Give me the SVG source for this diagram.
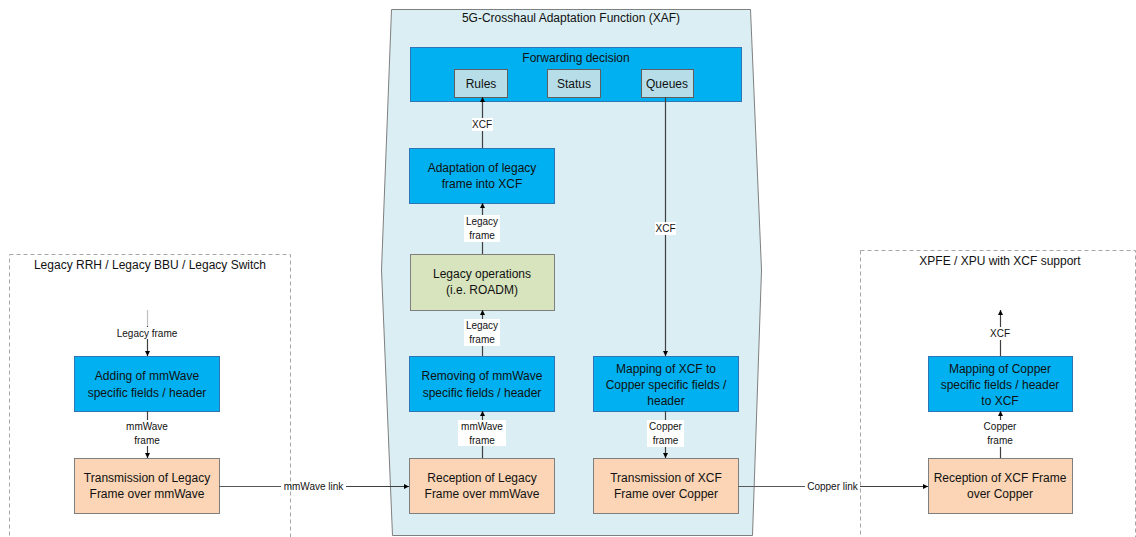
<svg xmlns="http://www.w3.org/2000/svg" width="1136" height="537" viewBox="0 0 1136 537">
  <style>
    .t { font-family: "Liberation Sans", Arial, sans-serif; fill: #111111; text-anchor: middle; }
    .box { font-size: 12px; }
    .lbl { font-size: 10px; }
    .hdr { font-size: 12px; }
    .blue { fill: #00B0F0; stroke: #2E75B6; stroke-width: 1; }
    .peach { fill: #FBD5B5; stroke: #7F7F7F; stroke-width: 1; }
    .green { fill: #D7E4BD; stroke: #7F7F7F; stroke-width: 1; }
    .sub { fill: #B7DEE8; stroke: #5F5F5F; stroke-width: 1; }
    .frame { fill: none; stroke: #A6A6A6; stroke-width: 1; stroke-dasharray: 4 3; }
    .wire { fill: none; stroke: #404040; stroke-width: 1.2; marker-end: url(#ah); }
    .link { fill: none; stroke: #595959; stroke-width: 1.2; }
    .bg { fill: #FFFFFF; }
  </style>
  <defs>
    <marker id="ah" viewBox="0 0 10 10" refX="10" refY="5" markerWidth="5" markerHeight="5" orient="auto" markerUnits="userSpaceOnUse">
      <path d="M0,0 L10,5 L0,10 z" fill="#000"/>
    </marker>
  </defs>

  <!-- Outer containers -->
  <g id="legacy-domain">
    <rect class="frame" x="9.5" y="254.5" width="281" height="290"/>
    <text class="t hdr" x="150" y="269">Legacy RRH / Legacy BBU / Legacy Switch</text>
  </g>
  <g id="xpfe-domain">
    <rect class="frame" x="860.5" y="250.5" width="275" height="294"/>
    <text class="t hdr" x="1000" y="265">XPFE / XPU with XCF support</text>
  </g>
  <g id="xaf">
    <polygon points="391.5,9.5 750.5,9.5 761.5,270 752.5,535.5 392.5,535.5 381.5,270" fill="#DAEEF3" stroke="#7F7F7F" stroke-width="1"/>
    <text class="t hdr" x="571" y="22">5G-Crosshaul Adaptation Function (XAF)</text>
  </g>

  <!-- Processing blocks -->
  <g id="forwarding-decision">
    <rect class="blue" x="410.5" y="47.5" width="331" height="54"/>
    <text class="t box" x="576" y="62">Forwarding decision</text>
  </g>
  <g id="rules">
    <rect class="sub" x="454.5" y="69.5" width="53" height="28"/>
    <text class="t box" x="481" y="88">Rules</text>
  </g>
  <g id="status">
    <rect class="sub" x="547.5" y="69.5" width="53" height="28"/>
    <text class="t box" x="574" y="88">Status</text>
  </g>
  <g id="queues">
    <rect class="sub" x="641.5" y="69.5" width="52" height="28"/>
    <text class="t box" x="667" y="88">Queues</text>
  </g>
  <g id="adaptation">
    <rect class="blue" x="409.5" y="148.5" width="145" height="55"/>
    <text class="t box" x="482" y="172">Adaptation of legacy</text>
    <text class="t box" x="482" y="188">frame into XCF</text>
  </g>
  <g id="legacy-operations">
    <rect class="green" x="410.5" y="254.5" width="144" height="56"/>
    <text class="t box" x="482" y="278">Legacy operations</text>
    <text class="t box" x="482" y="294">(i.e. ROADM)</text>
  </g>
  <g id="removing-mmwave">
    <rect class="blue" x="409.5" y="356.5" width="145" height="55"/>
    <text class="t box" x="482" y="380">Removing of mmWave</text>
    <text class="t box" x="482" y="397">specific fields / header</text>
  </g>
  <g id="reception-legacy">
    <rect class="peach" x="409.5" y="458.5" width="145" height="55"/>
    <text class="t box" x="482" y="482">Reception of Legacy</text>
    <text class="t box" x="482" y="498">Frame over mmWave</text>
  </g>
  <g id="mapping-xcf-copper">
    <rect class="blue" x="593.5" y="356.5" width="145" height="55"/>
    <text class="t box" x="666" y="373">Mapping of XCF to</text>
    <text class="t box" x="666" y="389">Copper specific fields /</text>
    <text class="t box" x="666" y="405">header</text>
  </g>
  <g id="transmission-xcf">
    <rect class="peach" x="593.5" y="458.5" width="145" height="55"/>
    <text class="t box" x="666" y="482">Transmission of XCF</text>
    <text class="t box" x="666" y="498">Frame over Copper</text>
  </g>
  <g id="adding-mmwave">
    <rect class="blue" x="74.5" y="356.5" width="145" height="55"/>
    <text class="t box" x="147" y="380">Adding of mmWave</text>
    <text class="t box" x="147" y="397">specific fields / header</text>
  </g>
  <g id="transmission-legacy">
    <rect class="peach" x="74.5" y="458.5" width="145" height="55"/>
    <text class="t box" x="147" y="482">Transmission of Legacy</text>
    <text class="t box" x="147" y="498">Frame over mmWave</text>
  </g>
  <g id="mapping-copper-xcf">
    <rect class="blue" x="928.5" y="356.5" width="144" height="55"/>
    <text class="t box" x="1000" y="373">Mapping of Copper</text>
    <text class="t box" x="1000" y="389">specific fields / header</text>
    <text class="t box" x="1000" y="405">to XCF</text>
  </g>
  <g id="reception-xcf">
    <rect class="peach" x="928.5" y="458.5" width="144" height="55"/>
    <text class="t box" x="1000" y="482">Reception of XCF Frame</text>
    <text class="t box" x="1000" y="498">over Copper</text>
  </g>

  <!-- Connectors -->
  <g id="connectors">
    <!-- legacy side -->
    <line x1="147.5" y1="310" x2="147.5" y2="326" stroke="#BFBFBF" stroke-width="1.2"/>
    <line class="wire" x1="147.5" y1="326" x2="147.5" y2="356"/>
    <rect class="bg" x="114" y="327" width="66" height="12"/>
    <text class="t lbl" x="147" y="337">Legacy frame</text>

    <line class="wire" x1="147.5" y1="411" x2="147.5" y2="458"/>
    <rect class="bg" x="123" y="420" width="48" height="26"/>
    <text class="t lbl" x="147" y="430">mmWave</text>
    <text class="t lbl" x="147" y="444">frame</text>

    <!-- mmWave link -->
    <line class="link" x1="219" y1="486.5" x2="281" y2="486.5"/>
    <line class="wire" x1="346" y1="486.5" x2="409" y2="486.5"/>
    <text class="t lbl" x="313.5" y="490">mmWave link</text>

    <!-- XAF receive chain -->
    <line class="wire" x1="482.5" y1="458" x2="482.5" y2="411"/>
    <rect class="bg" x="458" y="420" width="48" height="26"/>
    <text class="t lbl" x="482" y="430">mmWave</text>
    <text class="t lbl" x="482" y="444">frame</text>

    <line class="wire" x1="482.5" y1="356" x2="482.5" y2="310"/>
    <rect class="bg" x="464" y="319" width="36" height="27"/>
    <text class="t lbl" x="482" y="329">Legacy</text>
    <text class="t lbl" x="482" y="343">frame</text>

    <line class="wire" x1="482.5" y1="254" x2="482.5" y2="203"/>
    <rect class="bg" x="464" y="215" width="36" height="27"/>
    <text class="t lbl" x="482" y="225">Legacy</text>
    <text class="t lbl" x="482" y="239">frame</text>

    <line class="wire" x1="482.5" y1="148" x2="482.5" y2="97"/>
    <rect class="bg" x="472" y="118" width="21" height="13"/>
    <text class="t lbl" x="482" y="128">XCF</text>

    <!-- XAF transmit chain -->
    <line class="wire" x1="665.5" y1="97" x2="665.5" y2="356"/>
    <rect class="bg" x="655" y="222" width="21" height="13"/>
    <text class="t lbl" x="665.5" y="232">XCF</text>

    <line class="wire" x1="665.5" y1="411" x2="665.5" y2="458"/>
    <rect class="bg" x="647" y="420" width="37" height="27"/>
    <text class="t lbl" x="665.5" y="430">Copper</text>
    <text class="t lbl" x="665.5" y="444">frame</text>

    <!-- Copper link -->
    <line class="link" x1="738" y1="486.5" x2="805" y2="486.5"/>
    <line class="wire" x1="860" y1="486.5" x2="928" y2="486.5"/>
    <text class="t lbl" x="832.5" y="490">Copper link</text>

    <!-- XPFE side -->
    <line class="wire" x1="1000.5" y1="458" x2="1000.5" y2="411"/>
    <rect class="bg" x="982" y="420" width="37" height="27"/>
    <text class="t lbl" x="1000" y="430">Copper</text>
    <text class="t lbl" x="1000" y="444">frame</text>

    <line class="wire" x1="1000.5" y1="356" x2="1000.5" y2="310"/>
    <rect class="bg" x="989" y="327" width="22" height="13"/>
    <text class="t lbl" x="1000" y="337">XCF</text>
  </g>
</svg>
